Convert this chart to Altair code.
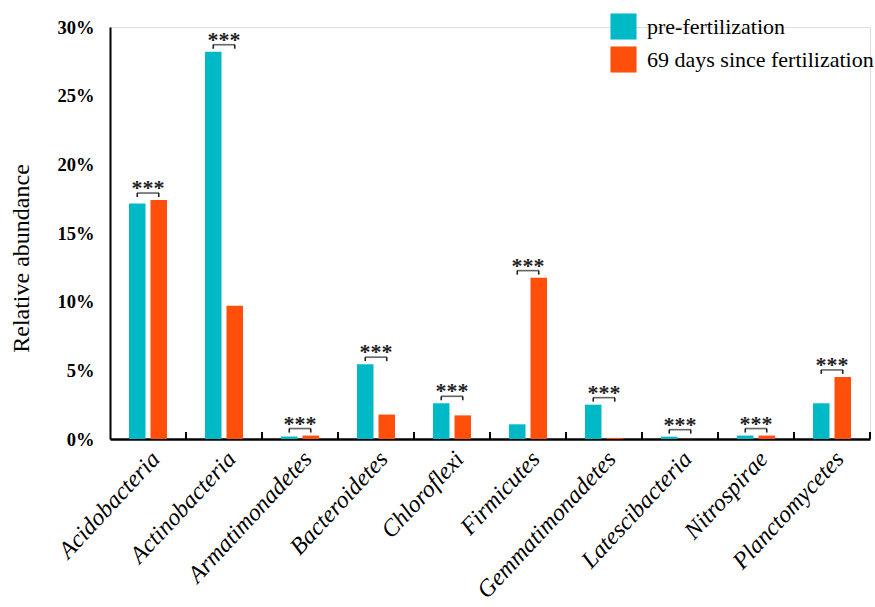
import altair as alt
import pandas as pd

phyla = ["Acidobacteria", "Actinobacteria", "Armatimonadetes", "Bacteroidetes",
         "Chloroflexi", "Firmicutes", "Gemmatimonadetes", "Latescibacteria",
         "Nitrospirae", "Planctomycetes"]
pre = [17.15, 28.2, 0.18, 5.45, 2.6, 1.07, 2.5, 0.17, 0.25, 2.6]
post = [17.4, 9.7, 0.25, 1.78, 1.72, 11.75, 0.08, 0.01, 0.25, 4.52]
series = ["pre-fertilization", "69 days since fertilization"]
colors = ["#00B9C6", "#FF4F0A"]
sig = ["***"] * 10
y_ticks = [0, 5, 10, 15, 20, 25, 30]

bars_df = pd.DataFrame({
    "phylum": phyla * 2,
    "group": [series[0]] * len(phyla) + [series[1]] * len(phyla),
    "value": pre + post,
})
tops = [max(a, b) for a, b in zip(pre, post)]
sig_df = pd.DataFrame({"phylum": phyla, "value": tops, "label": sig})
ends_df = pd.DataFrame({
    "phylum": phyla * 2,
    "group": [series[0]] * len(phyla) + [series[1]] * len(phyla),
    "value": tops * 2,
})

FONT = "Liberation Serif"

x_axis = alt.Axis(
    title=None, labelAngle=-47, labelFont=FONT, labelFontStyle="italic",
    labelFontSize=24, labelColor="black", domainColor="black", domainWidth=2.5,
    ticks=False, labelPadding=16, labelOffset=8, labelAlign="right",
    labelBaseline="middle", grid=False, labelLimit=0,
)
x_scale = alt.Scale(domain=phyla, paddingInner=0, paddingOuter=0)
y_axis = alt.Axis(
    title="Relative abundance", titleFont=FONT, titleFontSize=24,
    titleFontWeight="normal", titleColor="black", titlePadding=24,
    titleY=231, titleAlign="center", titleAngle=270,
    labelFont=FONT, labelFontSize=18.5, labelFontWeight="bold", labelColor="black",
    labelExpr="datum.value + '%'", values=y_ticks, ticks=False, grid=False,
    domainColor="black", domainWidth=2, labelPadding=16,
)
y_scale = alt.Scale(domain=[0, 30], nice=False)

def X(**kw):
    return alt.X("phylum:N", scale=x_scale, axis=x_axis, **kw)

def Y():
    return alt.Y("value:Q", scale=y_scale, axis=y_axis)

xoff = alt.XOffset("group:N", sort=series,
                   scale=alt.Scale(domain=series, paddingInner=0.233, paddingOuter=0.884))

bars = alt.Chart(bars_df).mark_bar().encode(
    x=X(), xOffset=xoff, y=Y(),
    color=alt.Color("group:N", sort=series,
                    scale=alt.Scale(domain=series, range=colors),
                    legend=alt.Legend(
                        title=None, orient="none", legendX=500, legendY=-14,
                        symbolType="square", symbolSize=680, symbolStrokeWidth=0,
                        symbolOpacity=1, labelFont=FONT, labelFontSize=22,
                        labelColor="black", labelOffset=10, rowPadding=6,
                        padding=0, labelLimit=0)),
)

bracket = alt.Chart(sig_df).mark_tick(
    size=22, thickness=1.6, color="#222222", yOffset=-7, orient="horizontal"
).encode(x=X(), y=Y())

ends = alt.Chart(ends_df).mark_rule(
    color="#222222", strokeWidth=1.6, yOffset=-7, y2Offset=-3
).encode(x=X(), xOffset=xoff, y=Y(), y2="value:Q")

stars = alt.Chart(sig_df).mark_text(
    font=FONT, fontSize=22, fontWeight="bold", color="#222222",
    baseline="alphabetic", yOffset=-5
).encode(x=X(), y=Y(), text="label:N")

ticks = alt.Chart(pd.DataFrame({"phylum": phyla})).mark_rule(
    color="black", strokeWidth=2, y2Offset=-7
).encode(x=X(bandPosition=1), y=alt.datum(0), y2=alt.datum(0))

chart = alt.layer(bars, ticks, bracket, ends, stars).properties(
    width=760, height=412,
    autosize=alt.AutoSizeParams(type="none"),
    padding={"left": 110, "top": 27, "right": 5, "bottom": 168},
).configure_view(stroke=None).configure(background="white")

chart.save("out.html", embed_options={"renderer": "svg", "actions": False})
